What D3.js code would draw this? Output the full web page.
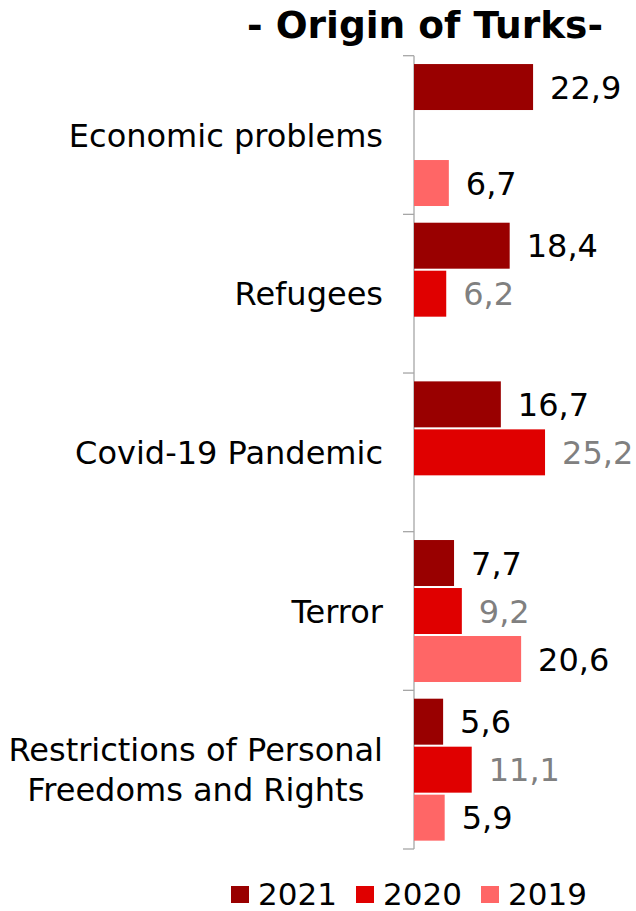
<!DOCTYPE html>
<html><head><meta charset="utf-8">
<script src="https://cdn.jsdelivr.net/npm/d3@7"></script>
<style>body{margin:0;background:#fff}svg{display:block}</style>
</head><body>
<script>
const title = "- Origin of Turks-";
const categories = ["Economic problems", "Refugees", "Covid-19 Pandemic", "Terror", "Restrictions of Personal\nFreedoms and Rights"];
const seriesNames = ["2021", "2020", "2019"];
const values2021 = [22.9, 18.4, 16.7, 7.7, 5.6];
const values2020 = [null, 6.2, 25.2, 9.2, 11.1];
const values2019 = [6.7, null, null, 20.6, 5.9];
const colors = ["#990000", "#e00000", "#ff6666"];
const labelColors = ["#000", "#808080", "#000"];

const W = 636, H = 911;
const font = "Verdana, 'DejaVu Sans', sans-serif";
const svg = d3.select("body").append("svg").attr("width", W).attr("height", H);

const series = [values2021, values2020, values2019];
const x = d3.scaleLinear().domain([0, 30]).range([414, 570]);
const y = d3.scaleBand().domain(categories).range([55.7, 849]).padding(0);
const yi = d3.scaleBand().domain(seriesNames).range([0, y.bandwidth()]).paddingInner(0.042).paddingOuter(0.174);

svg.append("text").attr("x", 425).attr("y", 38).attr("text-anchor", "middle")
  .attr("font-family", font).attr("font-weight", "bold").attr("font-size", 37.5).text(title);

// axis
const ax = svg.append("g").attr("stroke", "#a6a6a6").attr("stroke-width", 1.3);
ax.append("line").attr("x1", x(0)).attr("x2", x(0)).attr("y1", y.range()[0]).attr("y2", y.range()[1]);
const bounds = categories.map(c => y(c)).concat([y.range()[1]]);
ax.selectAll("line.t").data(bounds).join("line").attr("class", "t")
  .attr("x1", x(0) - 11).attr("x2", x(0)).attr("y1", d => d).attr("y2", d => d);

// bars
seriesNames.forEach((s, si) => {
  const data = categories.map((c, i) => ({c, v: series[si][i]})).filter(d => d.v != null);
  svg.append("g").selectAll("rect").data(data).join("rect")
    .attr("x", x(0)).attr("y", d => y(d.c) + yi(s))
    .attr("width", d => x(d.v) - x(0)).attr("height", yi.bandwidth())
    .attr("fill", colors[si]);
  svg.append("g").selectAll("text").data(data).join("text")
    .attr("x", d => x(d.v) + 17).attr("y", d => y(d.c) + yi(s) + yi.bandwidth() / 2)
    .attr("dy", "0.36em").attr("font-family", font).attr("font-size", 32)
    .attr("fill", labelColors[si]).text(d => d.v.toFixed(1).replace(".", ","));
});

// category labels
categories.forEach(c => {
  const lines = c.split("\n");
  const g = svg.append("g");
  const lh = 40;
  const cy = y(c) + y.bandwidth() / 2;
  const texts = lines.map((l, i) => g.append("text")
    .attr("y", cy + (i - (lines.length - 1) / 2) * lh).attr("dy", "0.36em")
    .attr("font-family", font).attr("font-size", 32).attr("fill", "#000").text(l));
  const widths = texts.map(t => t.node().getComputedTextLength());
  const maxW = d3.max(widths);
  const right = 383;
  texts.forEach((t, i) => t.attr("text-anchor", "middle").attr("x", right - maxW / 2));
});

// legend
const legX = [231, 356, 481];
seriesNames.forEach((s, i) => {
  svg.append("rect").attr("x", legX[i]).attr("y", 886).attr("width", 18).attr("height", 17).attr("fill", colors[i]);
  svg.append("text").attr("x", legX[i] + 27).attr("y", 905).attr("font-family", font)
    .attr("font-size", 31).attr("fill", "#000").text(s);
});
</script>
</body></html>
